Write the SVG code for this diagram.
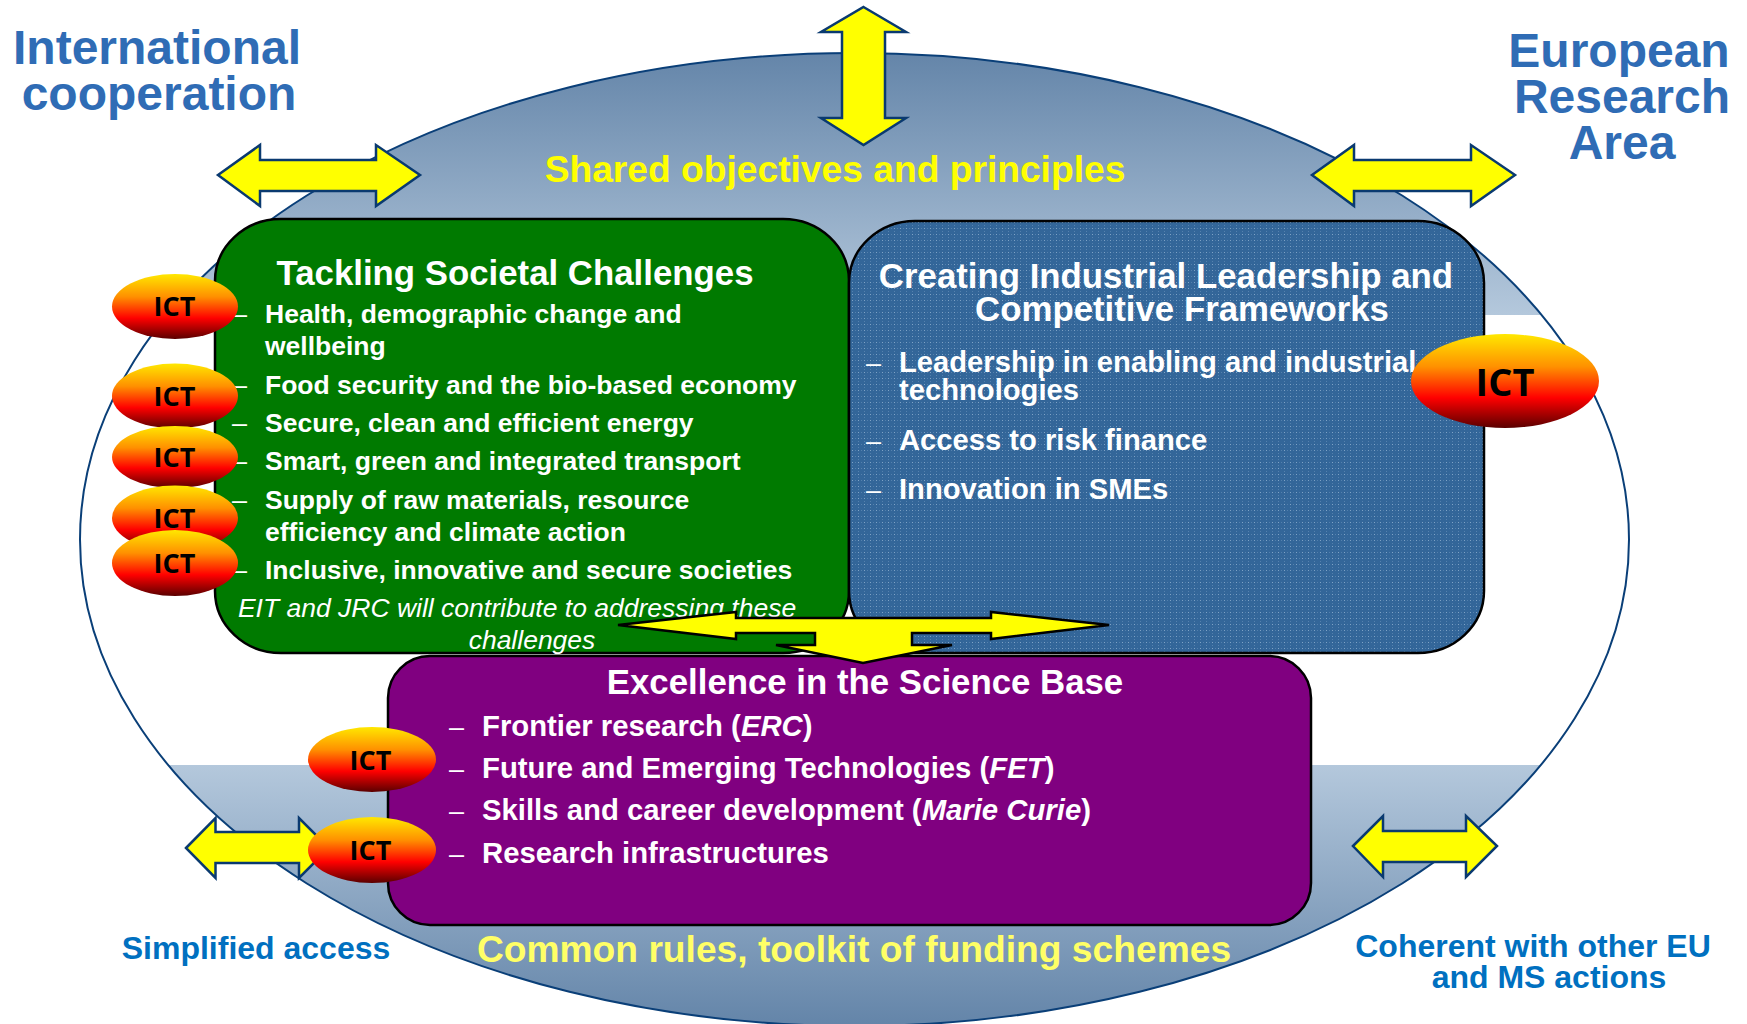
<svg xmlns="http://www.w3.org/2000/svg" width="1747" height="1024" viewBox="0 0 1747 1024">
<style>
text{font-family:"Liberation Sans",Arial,sans-serif;font-weight:700}
.h{fill:#2f6cb5;font-size:48px;text-anchor:middle}
.t{fill:#fff;font-size:34.8px;text-anchor:middle}
.l{fill:#fff;font-size:26.5px}
.m{fill:#fff;font-size:29.2px}
.n{fill:#fff;font-size:29.3px}
.d{fill:#fff;font-size:27px;font-weight:400}
.b{fill:#0070c0;font-size:32px;text-anchor:middle}
.i{font-style:italic;font-weight:400}
.e{font-style:italic;font-weight:700}
.box{stroke:#000;stroke-width:2.5}
.ict{fill:url(#ig)}
.ic{fill:#000;text-anchor:middle;font-family:"Open Sans","Liberation Sans",sans-serif;font-size:27px}
.ya{fill:#ff0;stroke:#0a3a70;stroke-width:2.5;stroke-linejoin:miter}
.yb{fill:#ff0;stroke:#000;stroke-width:2.5;stroke-linejoin:miter}
.p1{fill:#7fa3c6}
.p2{fill:#5380ad}
</style>
<defs>
<linearGradient id="top" x1="0" y1="53" x2="0" y2="315" gradientUnits="userSpaceOnUse"><stop offset="0" stop-color="#6485a9"/><stop offset="1" stop-color="#b4c8dc"/></linearGradient>
<linearGradient id="bot" x1="0" y1="765" x2="0" y2="1024" gradientUnits="userSpaceOnUse"><stop offset="0" stop-color="#b4c8dc"/><stop offset="1" stop-color="#6485a9"/></linearGradient>
<linearGradient id="ig" x1="0" y1="0" x2="0" y2="1"><stop offset="0" stop-color="#ffe800"/><stop offset=".35" stop-color="#ff9000"/><stop offset=".68" stop-color="#ff0000"/><stop offset="1" stop-color="#5a0000"/></linearGradient>
<pattern id="dots" width="12" height="12" patternUnits="userSpaceOnUse"><rect width="12" height="12" fill="#336699"/><rect class="p1" x="0" y="0" width="1" height="1"/><rect class="p2" x="3" y="0" width="1" height="1"/><rect class="p1" x="6" y="0" width="1" height="1"/><rect class="p2" x="9" y="0" width="1" height="1"/><rect class="p2" x="0" y="3" width="1" height="1"/><rect class="p2" x="6" y="3" width="1" height="1"/><rect class="p1" x="0" y="6" width="1" height="1"/><rect class="p2" x="3" y="6" width="1" height="1"/><rect class="p1" x="6" y="6" width="1" height="1"/><rect class="p2" x="9" y="6" width="1" height="1"/><rect class="p2" x="0" y="9" width="1" height="1"/><rect class="p2" x="6" y="9" width="1" height="1"/></pattern>
<clipPath id="ec"><ellipse cx="854.500" cy="539.500" rx="774.500" ry="486.500"/></clipPath>
</defs>
<g id="background">
<g clip-path="url(#ec)">
<rect x="70" y="40" width="1570" height="275" fill="url(#top)"/>
<rect x="70" y="765" width="1570" height="265" fill="url(#bot)"/>
</g>
<ellipse cx="854.500" cy="539.500" rx="774.500" ry="486.500" fill="none" stroke="#0a3f78" stroke-width="2"/>
</g>
<g id="heading-international"><text class="h" x="157" y="64">International</text><text class="h" x="159" y="110">cooperation</text></g>
<g id="heading-era"><text class="h" x="1619" y="67">European</text><text class="h" x="1622" y="113">Research</text><text class="h" x="1622" y="159">Area</text></g>
<g id="label-shared"><text x="835" y="182" fill="#ff0" font-size="37.200" text-anchor="middle">Shared objectives and principles</text></g>
<g id="node-societal">
<rect class="box" x="215" y="219" width="634" height="434" rx="66" ry="62" fill="#007a00"/>
<text class="t" x="515" y="285">Tackling Societal Challenges</text>
<text class="d" x="232" y="323">–</text><text class="l" x="265" y="323">Health, demographic change and</text><text class="l" x="265" y="355">wellbeing</text>
<text class="d" x="232" y="394">–</text><text class="l" x="265" y="394">Food security and the bio-based economy</text>
<text class="d" x="232" y="432">–</text><text class="l" x="265" y="432">Secure, clean and efficient energy</text>
<text class="d" x="232" y="470">–</text><text class="l" x="265" y="470">Smart, green and integrated transport</text>
<text class="d" x="232" y="509">–</text><text class="l" x="265" y="509">Supply of raw materials, resource</text><text class="l" x="265" y="541">efficiency and climate action</text>
<text class="d" x="232" y="579">–</text><text class="l" x="265" y="579">Inclusive, innovative and secure societies</text>
<text class="l i" x="517" y="617" text-anchor="middle">EIT and JRC will contribute to addressing these</text>
<text class="l i" x="532" y="649" text-anchor="middle">challenges</text>
</g>
<g id="node-industrial">
<rect class="box" x="849" y="221" width="635" height="432" rx="66" ry="62" fill="url(#dots)"/>
<text class="t" x="1166" y="288">Creating Industrial Leadership and</text>
<text class="t" x="1182" y="321">Competitive Frameworks</text>
<text class="d" x="866" y="372">–</text><text class="m" x="899" y="372">Leadership in enabling and industrial</text><text class="m" x="899" y="400">technologies</text>
<text class="d" x="866" y="450">–</text><text class="m" x="899" y="450">Access to risk finance</text>
<text class="d" x="866" y="499">–</text><text class="m" x="899" y="499">Innovation in SMEs</text>
</g>
<g id="node-science">
<rect class="box" x="388" y="656" width="923" height="269" rx="42" ry="42" fill="#800080"/>
<text class="t" x="865" y="694">Excellence in the Science Base</text>
<text class="d" x="449" y="736">–</text><text class="n" x="482" y="736">Frontier research (<tspan class="e">ERC</tspan>)</text>
<text class="d" x="449" y="778">–</text><text class="n" x="482" y="778">Future and Emerging Technologies (<tspan class="e">FET</tspan>)</text>
<text class="d" x="449" y="820">–</text><text class="n" x="482" y="820">Skills and career development (<tspan class="e">Marie Curie</tspan>)</text>
<text class="d" x="449" y="863">–</text><text class="n" x="482" y="863">Research infrastructures</text>
</g>
<g id="connectors">
<polygon class="ya" points="863.500,7 906,32 885,32 885,118 906,118 863.500,145 821,118 842,118 842,32 821,32"/>
<polygon class="ya" points="218,175 260,145 260,160 376,160 376,145 420,175 376,206 376,191 260,191 260,206"/>
<polygon class="ya" points="1312,175 1354,145 1354,160 1471,160 1471,145 1515,175 1471,206 1471,191 1354,191 1354,206"/>
<polygon class="ya" points="186,848 215.500,818 215.500,832 299,832 299,818 329,848 299,878 299,863 215.500,863 215.500,878"/>
<polygon class="ya" points="1353,846 1383,816 1383,831 1466,831 1466,816 1497,846 1466,877 1466,862 1383,862 1383,877"/>
<polygon class="yb" points="618,625 736,612 736,618 991,618 991,612 1109,625 991,639 991,633 912,633 912,645 952,645 863,663 776,645 815,645 815,633 736,633 736,639"/>
</g>
<g id="ict-1"><ellipse class="ict" cx="175" cy="306.500" rx="63" ry="32.500"/><text class="ic" x="174.500" y="316">ICT</text></g>
<g id="ict-2"><ellipse class="ict" cx="175" cy="396" rx="63" ry="32.500"/><text class="ic" x="174.500" y="406">ICT</text></g>
<g id="ict-3"><ellipse class="ict" cx="175" cy="457" rx="63" ry="31"/><text class="ic" x="174.500" y="467">ICT</text></g>
<g id="ict-4"><ellipse class="ict" cx="175" cy="518" rx="63" ry="32.500"/><text class="ic" x="174.500" y="528">ICT</text></g>
<g id="ict-5"><ellipse class="ict" cx="175" cy="563" rx="63" ry="33"/><text class="ic" x="174.500" y="573">ICT</text></g>
<g id="ict-6"><ellipse class="ict" cx="372" cy="759.500" rx="64" ry="32.500"/><text class="ic" x="370.500" y="770">ICT</text></g>
<g id="ict-7"><ellipse class="ict" cx="372" cy="850" rx="64" ry="33"/><text class="ic" x="370.500" y="860">ICT</text></g>
<g id="ict-8"><ellipse class="ict" cx="1505" cy="381" rx="94" ry="47"/><text class="ic" x="1505" y="396" style="font-size:38px">ICT</text></g>
<g id="label-simplified"><text class="b" x="256" y="959">Simplified access</text></g>
<g id="label-common"><text x="854" y="962" fill="#ffff66" font-size="37.200" text-anchor="middle">Common rules, toolkit of funding schemes</text></g>
<g id="label-coherent"><text class="b" x="1533" y="957">Coherent with other EU</text><text class="b" x="1549" y="988">and MS actions</text></g>
</svg>
